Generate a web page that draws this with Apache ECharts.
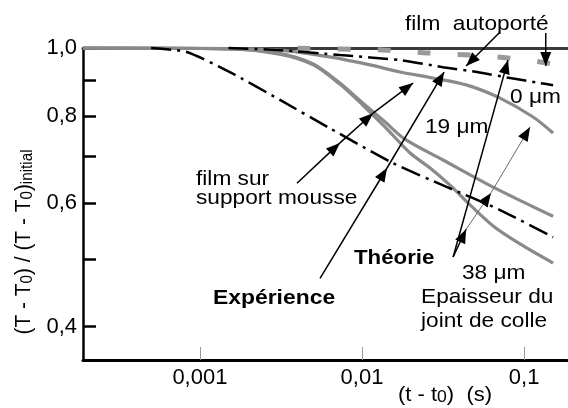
<!DOCTYPE html>
<html><head><meta charset="utf-8">
<script src="https://cdn.jsdelivr.net/npm/echarts@6/dist/echarts.min.js"></script>
<style>html,body{margin:0;padding:0;background:#fff}#c{width:568px;height:408px}</style>
</head><body><div id="c"></div>
<script>
// ---- axis ticks ----
const xTicks = [0.001, 0.01, 0.1];
const yTicks = [1.0, 0.9, 0.8, 0.7, 0.6, 0.5, 0.4];
const yLabels = [1.0, 0.8, 0.6, 0.4];

// ---- series (x = t - t0 in s, y = (T-T0)/(T-T0)initial) ----
const theoryMousse = [[0.0005,1.0],[0.00083,0.987],[0.00153,0.924],[0.00312,0.843],[0.00634,0.768],[0.0155,0.685],[0.0335,0.633],[0.0711,0.587],[0.151,0.537]];
const theoryAutoporte = [[0.0015,1.0],[0.00312,0.993],[0.00731,0.977],[0.0172,0.961],[0.0316,0.939],[0.0513,0.924],[0.082,0.906],[0.1256,0.891],[0.151,0.885]];
const expAutoporte = [[0.003,1.0],[0.0143,0.993],[0.0252,0.984],[0.0466,0.977],[0.0796,0.968],[0.139,0.952],[0.151,0.949]];
const exp0um = [[0.00019,1.0],[0.0015,0.998],[0.0031,0.993],[0.0063,0.971],[0.0112,0.946],[0.0172,0.924],[0.0274,0.906],[0.0445,0.885],[0.0711,0.848],[0.1137,0.797],[0.151,0.756]];
const exp19um = [[0.00019,1.0],[0.0015,0.997],[0.0031,0.983],[0.005,0.949],[0.0073,0.891],[0.0101,0.835],[0.0139,0.784],[0.0184,0.741],[0.0316,0.692],[0.0644,0.633],[0.151,0.575]];
const exp38um = [[0.00019,1.0],[0.0015,0.997],[0.0031,0.980],[0.005,0.946],[0.0073,0.888],[0.0101,0.829],[0.0139,0.771],[0.0198,0.708],[0.0263,0.674],[0.0349,0.637],[0.0464,0.597],[0.0644,0.557],[0.0944,0.525],[0.151,0.493]];

// ---- annotation arrows (data coordinates): origin, then successive arrow tips ----
const arrowChains = [
  {from:[0.0711,1.054], tips:[[0.0439,0.9425]], gray:false},
  {from:[0.136,1.0506], tips:[[0.136,0.9425]], gray:false},
  {from:[0.00397,0.641], tips:[[0.00731,0.732],[0.0117,0.807],[0.02065,0.891]], gray:false},
  {from:[0.00551,0.469], tips:[[0.01427,0.674],[0.0321,0.924]], gray:false},
  {from:[0.0365,0.503], tips:[[0.0796,0.961]], gray:false},
  {from:[0.0365,0.503], tips:[[0.0439,0.551]], gray:false},
  {from:[0.0439,0.551], tips:[[0.0625,0.621],[0.1089,0.771]], gray:true}
];

const FONT = "'Liberation Sans', Arial, sans-serif";
const chart = echarts.init(document.getElementById('c'));

const dashDot = [20,6,3,6];
function expSeries(data){
  return {type:'line', data, symbol:'none', smooth:0.3, clip:false, z:2,
    lineStyle:{color:'#8a8a8a', width:3.2}};
}
function theorySeries(data){
  return {type:'line', data, symbol:'none', smooth:0.2, clip:false, z:4,
    lineStyle:{color:'#000', width:2.5, type:dashDot}};
}

chart.setOption({
  animation:false,
  backgroundColor:'#fff',
  grid:{left:83, right:1, top:48, bottom:48, containLabel:false},
  xAxis:[{
    type:'log', logBase:10, min:0.00019, max:0.184,
    axisLine:{lineStyle:{color:'#000', width:3}},
    axisTick:{inside:true, length:13, lineStyle:{color:'#999', width:1}, customValues:xTicks},
    axisLabel:{customValues:xTicks, margin:7, color:'#000', fontSize:22, fontFamily:FONT,
      formatter:v=>String(+(+v).toPrecision(6)).replace('.', ',')},
    splitLine:{show:false}, minorTick:{show:false}
  },{
    type:'log', logBase:10, min:0.00019, max:0.184, position:'top',
    axisLine:{lineStyle:{color:'#3a3a3a', width:3}},
    axisTick:{show:false}, axisLabel:{show:false}, splitLine:{show:false}
  }],
  yAxis:{
    type:'log', logBase:10, min:0.3585, max:1.0,
    axisLine:{lineStyle:{color:'#000', width:2.5}},
    axisTick:{inside:true, length:13, lineStyle:{color:'#000', width:2.5}, customValues:yTicks},
    axisLabel:{customValues:yLabels, margin:6, color:'#000', fontSize:22, fontFamily:FONT,
      formatter:v=>(+v).toFixed(1).replace('.', ',')},
    splitLine:{show:false}
  },
  series:[
    expSeries(exp0um), expSeries(exp19um), expSeries(exp38um),
    {type:'line', data:expAutoporte, symbol:'none', smooth:0.3, clip:false, z:3,
      lineStyle:{color:'#9a9a9a', width:5, type:[13,27], dashOffset:19.5}},
    theorySeries(theoryMousse), theorySeries(theoryAutoporte)
  ]
});

// ---- annotations ----
const g = [];
function px(p){ return chart.convertToPixel({xAxisIndex:0, yAxisIndex:0}, p); }
arrowChains.forEach(ch => {
  let prev = px(ch.from);
  const col = ch.gray ? '#6a6a6a' : '#000';
  const lw = ch.gray ? 1 : 1.5;
  ch.tips.forEach(t => {
    const tip = px(t);
    const dx = tip[0]-prev[0], dy = tip[1]-prev[1];
    const len = Math.hypot(dx,dy); const ux = dx/len, uy = dy/len;
    const L = 14, W = 5.5;
    const bx = tip[0]-ux*L, by = tip[1]-uy*L;
    g.push({type:'line', z:100, shape:{x1:prev[0], y1:prev[1], x2:tip[0], y2:tip[1]}, style:{stroke:col, lineWidth:lw}});
    g.push({type:'polygon', z:101, shape:{points:[[tip[0],tip[1]],[bx-uy*W, by+ux*W],[bx+uy*W, by-ux*W]]}, style:{fill:'#000'}});
    prev = tip;
  });
});
function txt(text, x, y, font, sx){
  g.push({type:'text', z:110, x, y, scaleX:sx||1.08,
    style:{text, x:0, y:0, fill:'#000', font:font||('21px '+FONT), verticalAlign:'middle', align:'left'}});
}
txt('film  autoporté', 405, 24);
txt('0 μm', 510, 97);
txt('19 μm', 425, 127);
txt('film sur', 196, 179);
txt('support mousse', 196, 198);
txt('Théorie', 354, 258, 'bold 21px '+FONT, 1.06);
txt('Expérience', 213, 298, 'bold 21px '+FONT, 1.09);
txt('38 μm', 462, 273);
txt('Epaisseur du', 421, 297);
txt('joint de colle', 421, 321);
// axis titles
g.push({type:'text', z:110, x:445, y:395, scaleX:1.1, style:{
  text:'{m|(t - t}{s|0}{m|)  (s)}', x:0, y:0, align:'center', verticalAlign:'middle',
  rich:{m:{fontSize:20, fontFamily:FONT, fill:'#000', lineHeight:22}, s:{fontSize:16, fontFamily:FONT, fill:'#000', lineHeight:14, verticalAlign:'bottom'}}
}});
g.push({type:'text', z:110, x:24, y:242, rotation:Math.PI/2, scaleX:0.95, style:{
  text:'{m|(T - T}{s|0}{m|) / (T - T}{s|0}{m|)}{s|initial}', x:0, y:0, align:'center', verticalAlign:'middle',
  rich:{m:{fontSize:22, fontFamily:FONT, fill:'#000', lineHeight:24}, s:{fontSize:16, fontFamily:FONT, fill:'#000', lineHeight:12, verticalAlign:'bottom'}}
}});
chart.setOption({graphic:g});
</script>
</body></html>
